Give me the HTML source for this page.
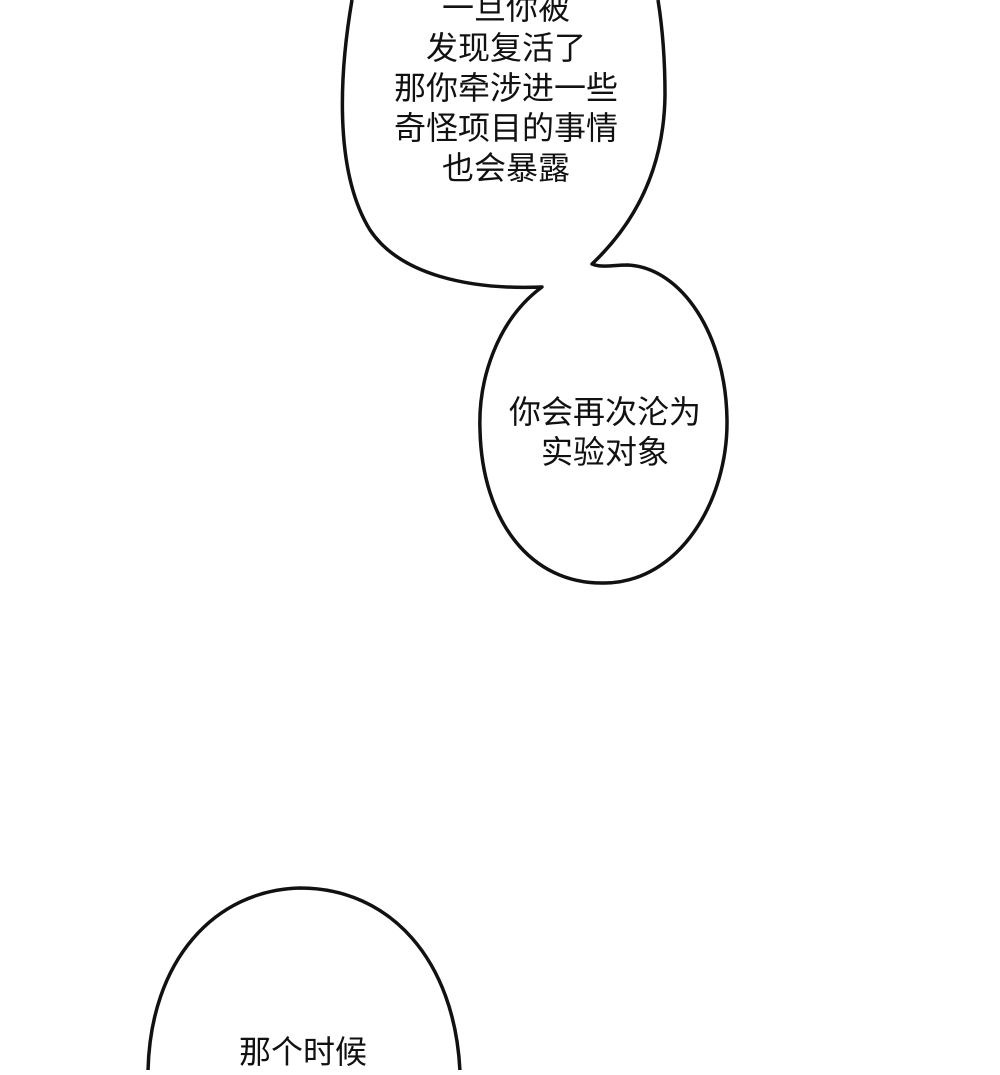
<!DOCTYPE html>
<html><head><meta charset="utf-8"><style>
html,body{margin:0;padding:0;background:#fff;}
body{width:1000px;height:1070px;overflow:hidden;}
svg text{font-family:"Liberation Sans","Noto Sans CJK SC",sans-serif;font-size:32px;fill:#111;text-anchor:middle;}
</style></head><body>
<svg width="1000" height="1070" viewBox="0 0 1000 1070" xmlns="http://www.w3.org/2000/svg">
<path d="M352,0 C340,70 333,170 370,230 C400,275 470,290 542,287 C497,320 478,380 480,430 C482,520 530,585 605,583 C680,582 728,500 727,420 C726,335 682,268 628,265 C612,265 602,268 592,264 C630,228 664,175 665,95 C665,55 662,25 658,0" fill="#fff" stroke="#111" stroke-width="3.5" stroke-linejoin="round"/>
<path d="M148,1072 C150,960 215,890 300,888 C390,888 455,960 460,1072" fill="#fff" stroke="#111" stroke-width="3.5"/>
<text x="506" y="19">一旦你被</text>
<text x="506" y="59">发现复活了</text>
<text x="506" y="99">那你牵涉进一些</text>
<text x="506" y="139">奇怪项目的事情</text>
<text x="506" y="179">也会暴露</text>
<text x="605" y="423">你会再次沦为</text>
<text x="605" y="463">实验对象</text>
<text x="303" y="1063">那个时候</text>
</svg>
</body></html>
